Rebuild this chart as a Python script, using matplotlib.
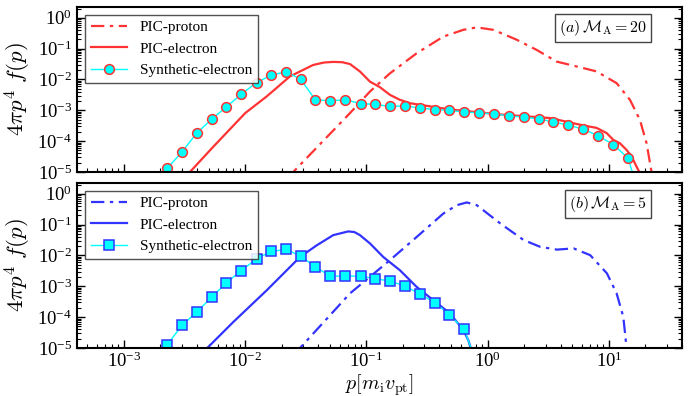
import numpy as np
import matplotlib
matplotlib.use("Agg")
import matplotlib.pyplot as plt
from matplotlib.ticker import LogLocator, NullFormatter

plt.rcParams['font.family'] = ['Liberation Serif', 'DejaVu Serif']
plt.rcParams['mathtext.fontset'] = 'stix'

# ---------------- data (log10 values) ----------------
# Panel (a)  M_A = 20
syn_a_logp = [-2.643, -2.522, -2.398, -2.277, -2.156, -2.033, -1.906, -1.785, -1.664,
              -1.543, -1.422, -1.298, -1.175, -1.048, -0.927, -0.806, -0.682, -0.561,
              -0.435, -0.317, -0.193, -0.069, 0.052, 0.175, 0.296, 0.420, 0.541, 0.664,
              0.788, 0.912, 1.036, 1.159, 1.21]
syn_a_logf = [-4.88, -4.35, -3.73, -3.29, -2.89, -2.48, -2.10, -1.86, -1.75,
              -1.99, -2.66, -2.69, -2.66, -2.78, -2.81, -2.87, -2.86, -2.92,
              -2.98, -3.00, -3.06, -3.08, -3.12, -3.18, -3.22, -3.28, -3.38, -3.48,
              -3.61, -3.83, -4.11, -4.56, -5.25]
ele_a_logp = [-2.50, -2.456, -2.263, -2.0, -1.823, -1.631, -1.44, -1.35, -1.274, -1.20,
              -1.136, -1.054, -0.971, -0.889, -0.806, -0.724, -0.64, -0.317, 0.12, 0.513,
              0.788, 0.898, 0.981, 1.036, 1.091, 1.146, 1.187, 1.228, 1.25, 1.27]
ele_a_logf = [-5.2, -5.0, -4.18, -3.09, -2.55, -1.90, -1.53, -1.45, -1.43, -1.44,
              -1.50, -1.74, -2.07, -2.25, -2.50, -2.66, -2.77, -2.97, -3.14, -3.25,
              -3.49, -3.57, -3.74, -3.96, -4.07, -4.29, -4.50, -4.83, -5.0, -5.3]
pro_a_logp = [-1.65, -1.604, -1.136, -0.971, -0.806, -0.586, -0.366, -0.201, -0.091, 0.046,
              0.238, 0.403, 0.568, 0.788, 0.898, 1.063, 1.173, 1.255, 1.31, 1.351, 1.37]
pro_a_logf = [-5.2, -5.0, -3.09, -2.39, -1.80, -1.15, -0.61, -0.39, -0.31, -0.39,
              -0.71, -1.04, -1.42, -1.63, -1.74, -2.12, -2.66, -3.31, -4.07, -5.0, -5.5]

# Panel (b)  M_A = 5
syn_b_logp = [-2.643, -2.522, -2.398, -2.277, -2.156, -2.033, -1.906, -1.785, -1.664,
              -1.543, -1.422, -1.298, -1.175, -1.048, -0.932, -0.806, -0.682, -0.561,
              -0.435, -0.317, -0.193, -0.12]
syn_b_logf = [-4.89, -4.27, -3.82, -3.36, -2.88, -2.50, -2.10, -1.87, -1.80,
              -2.02, -2.37, -2.67, -2.67, -2.67, -2.75, -2.83, -2.99, -3.25,
              -3.53, -3.92, -4.40, -5.2]
ele_b_logp = [-2.36, -2.313, -2.099, -1.823, -1.548, -1.41, -1.274, -1.15, -1.10, -1.054,
              -0.971, -0.861, -0.724, -0.586, -0.449, -0.311, -0.201, -0.16, -0.14, -0.12]
ele_b_logf = [-5.2, -5.0, -4.16, -3.13, -2.05, -1.67, -1.34, -1.22, -1.24, -1.34,
              -1.61, -2.05, -2.48, -3.02, -3.45, -3.88, -4.42, -4.75, -5.0, -5.3]
pro_b_logp = [-1.60, -1.548, -1.136, -0.971, -0.806, -0.586, -0.366, -0.256, -0.173, -0.09,
              0.103, 0.296, 0.433, 0.571, 0.708, 0.845, 0.983, 1.063, 1.118, 1.145, 1.16]
pro_b_logf = [-5.2, -5.0, -3.23, -2.69, -2.15, -1.40, -0.64, -0.37, -0.28, -0.37,
              -0.96, -1.50, -1.72, -1.81, -1.77, -1.99, -2.58, -3.23, -3.99, -5.0, -5.5]

labels = ['PIC-proton', 'PIC-electron', 'Synthetic-electron']
panel_text = [r'$(a)\,\mathcal{M}_{\rm A} = 20$', r'$(b)\,\mathcal{M}_{\rm A} = 5$']

# ---------------- figure ----------------
fig = plt.figure(figsize=(7.0, 3.96), dpi=100)
L, R = 77 / 700, 682 / 700
ax_a = fig.add_axes([L, 1 - 172 / 396, R - L, 165 / 396])
ax_b = fig.add_axes([L, 1 - 348 / 396, R - L, 165 / 396])

red = '#ff3333'
blue = '#3333ff'
cyan = '#00ffff'
dashdot = (0, (6, 2.5, 1.5, 2.5))

panels = [
    (ax_a, red, 'o', 7.0, syn_a_logp, syn_a_logf, ele_a_logp, ele_a_logf, pro_a_logp, pro_a_logf, 32),
    (ax_b, blue, 's', 6.5, syn_b_logp, syn_b_logf, ele_b_logp, ele_b_logf, pro_b_logp, pro_b_logf, 21),
]

for i, (ax, col, mk, ms, sp, sf, ep, ef, pp, pf, nmk) in enumerate(panels):
    ax.plot(10 ** np.array(pp), 10 ** np.array(pf), color=col, lw=1.6,
            linestyle=dashdot, label=labels[0])
    ax.plot(10 ** np.array(ep), 10 ** np.array(ef), color=col, lw=1.6, label=labels[1])
    ax.plot(10 ** np.array(sp), 10 ** np.array(sf), color=cyan, lw=1.0, marker=mk,
            markersize=ms, markerfacecolor=cyan, markeredgecolor=col, markeredgewidth=1.1,
            markevery=slice(0, nmk), label=labels[2])
    ax.set_xscale('log')
    ax.set_yscale('log')
    ax.set_xlim(4.1e-4, 40)
    ax.set_ylim(1e-5, 10 ** 0.35)
    ax.yaxis.set_major_locator(LogLocator(base=10, numticks=10))
    ax.yaxis.set_minor_locator(LogLocator(base=10, subs=np.arange(2, 10), numticks=20))
    ax.yaxis.set_minor_formatter(NullFormatter())
    ax.xaxis.set_major_locator(LogLocator(base=10, numticks=10))
    ax.xaxis.set_minor_locator(LogLocator(base=10, subs=np.arange(2, 10), numticks=20))
    ax.xaxis.set_minor_formatter(NullFormatter())
    ax.tick_params(which='both', direction='in', left=True, right=True, bottom=True, top=False,
                   labelsize=13.5)
    ax.tick_params(axis='x', which='major', pad=2.5)
    ax.tick_params(which='major', length=6, width=1)
    ax.tick_params(which='minor', length=3, width=0.8)
    for s in ax.spines.values():
        s.set_linewidth(1.5)
    ax.set_ylabel(r'$4\pi p^4\ f(p)$', fontsize=16.5, math_fontfamily='cm')
    ax.yaxis.set_label_coords(-0.073, 0.5)
    leg = ax.legend(loc='upper left', fontsize=11, fancybox=False, edgecolor='#333333',
                    framealpha=0.85, handlelength=2.4, handletextpad=0.8, labelspacing=0.5,
                    borderaxespad=0.5, borderpad=0.4)
    leg.get_frame().set_linewidth(1.0)
    ax.text(0.942, 0.935, panel_text[i], transform=ax.transAxes, ha='right', va='top',
            fontsize=11.5, math_fontfamily='cm',
            bbox=dict(boxstyle='square,pad=0.25', fc='white', ec='#444444', lw=1.0))

ax_a.tick_params(labelbottom=False)
ax_b.set_xlabel(r'$p[m_{\rm i}v_{\rm pt}]$', fontsize=14.5, math_fontfamily='cm')
ax_b.xaxis.set_label_coords(0.5, -0.145)

fig.savefig('out.png', dpi=100)
